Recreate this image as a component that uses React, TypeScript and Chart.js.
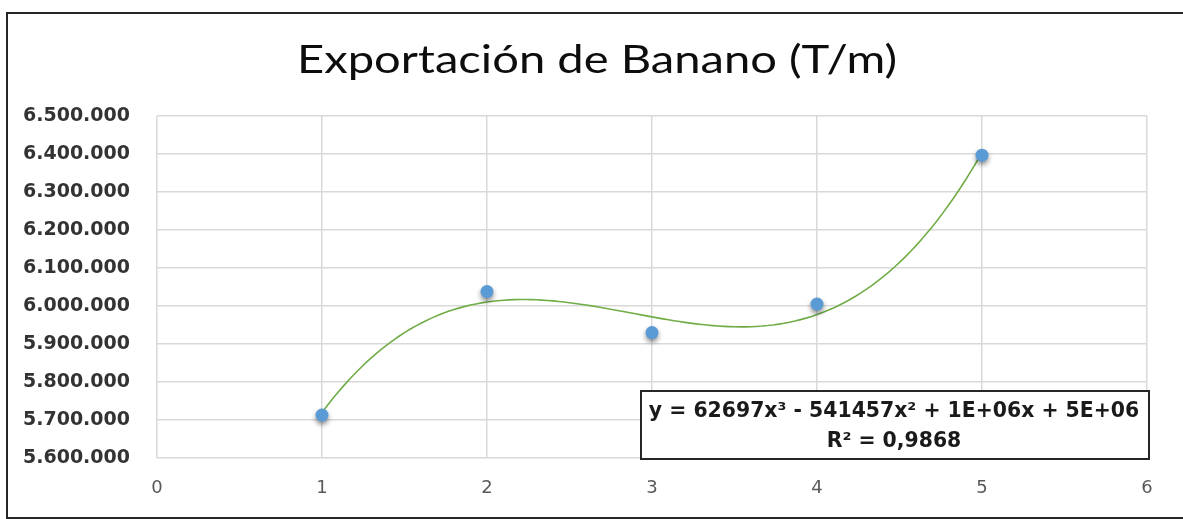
import React, { useEffect, useRef } from "react";
import { Chart, registerables } from "chart.js";

Chart.register(...registerables);

// ---- data ----
const TITLE = "Exportación de Banano (T/m)";
const periods = [1, 2, 3, 4, 5];
const exportTons = [5713000, 6038000, 5930000, 6005000, 6397000];
const yRange = [5600000, 6500000];
const yStep = 100000;
const xRange = [0, 6];
const xStep = 1;
const EQUATION = "y = 62697x³ - 541457x² + 1E+06x + 5E+06";
const R2_LABEL = "R² = 0,9868";

// least-squares polynomial trendline (what the spreadsheet's cubic trendline is)
function polyFit(xs: number[], ys: number[], deg: number) {
  const n = deg + 1;
  const xm = xs.reduce((a, b) => a + b, 0) / xs.length;
  const A: number[][] = Array.from({ length: n }, () => Array(n + 1).fill(0));
  for (let k = 0; k < xs.length; k++) {
    const t = xs[k] - xm;
    for (let i = 0; i < n; i++) {
      for (let j = 0; j < n; j++) A[i][j] += Math.pow(t, i + j);
      A[i][n] += ys[k] * Math.pow(t, i);
    }
  }
  for (let c = 0; c < n; c++) {
    let p = c;
    for (let r = c + 1; r < n; r++) if (Math.abs(A[r][c]) > Math.abs(A[p][c])) p = r;
    [A[c], A[p]] = [A[p], A[c]];
    for (let r = 0; r < n; r++) {
      if (r === c) continue;
      const f = A[r][c] / A[c][c];
      for (let k = c; k <= n; k++) A[r][k] -= f * A[c][k];
    }
  }
  const coef = A.map((row, i) => row[n] / row[i]);
  return (x: number) => coef.reduce((s, c, i) => s + c * Math.pow(x - xm, i), 0);
}

const fmt = (v: number) => String(Math.round(v)).replace(/\B(?=(\d{3})+(?!\d))/g, ".");

export default function App() {
  const ref = useRef<HTMLCanvasElement | null>(null);

  useEffect(() => {
    if (!ref.current) return;
    const f = polyFit(periods, exportTons, 3);
    const x0 = periods[0];
    const x1 = periods[periods.length - 1];
    const trend: { x: number; y: number }[] = [];
    const steps = 120;
    for (let i = 0; i <= steps; i++) {
      const x = x0 + ((x1 - x0) * i) / steps;
      trend.push({ x, y: f(x) });
    }

    const shadowPlugin = {
      id: "pointShadow",
      beforeDatasetDraw(chart: any, args: any) {
        if (args.index !== 0) return;
        const ctx = chart.ctx;
        ctx.save();
        ctx.shadowColor = "rgba(0,0,0,0.45)";
        ctx.shadowBlur = 5;
        ctx.shadowOffsetX = 0;
        ctx.shadowOffsetY = 3;
      },
      afterDatasetDraw(chart: any, args: any) {
        if (args.index !== 0) return;
        chart.ctx.restore();
      },
    };

    const textPlugin = {
      id: "titleAndEquation",
      afterDraw(chart: any) {
        const ctx = chart.ctx;
        const area = chart.chartArea;
        ctx.save();
        // title (horizontally stretched like the spreadsheet export)
        ctx.fillStyle = "#0d0d0d";
        ctx.font = "38px Lato";
        ctx.textAlign = "center";
        ctx.textBaseline = "alphabetic";
        const tw = ctx.measureText(TITLE).width;
        const sx = 600 / tw;
        ctx.save();
        ctx.translate(597, 73);
        ctx.scale(sx, 1);
        ctx.fillText(TITLE, 0, 0);
        ctx.restore();
        // equation box
        const bw = 508;
        const bh = 68;
        const bx = area.right + 2 - bw;
        const by = area.bottom + 1 - bh;
        ctx.fillStyle = "#ffffff";
        ctx.fillRect(bx, by, bw, bh);
        ctx.strokeStyle = "#262626";
        ctx.lineWidth = 2;
        ctx.strokeRect(bx, by, bw, bh);
        ctx.fillStyle = "#1a1a1a";
        ctx.font = "bold 20.4px 'DejaVu Sans'";
        ctx.textBaseline = "middle";
        ctx.fillText(EQUATION, bx + bw / 2 - 1, by + 21);
        ctx.fillText(R2_LABEL, bx + bw / 2 - 1, by + 51);
        ctx.restore();
      },
    };

    const gridColor = "#d9d9d9";
    const chart = new Chart(ref.current, {
      type: "scatter",
      data: {
        datasets: [
          {
            label: "Exportación",
            data: periods.map((x, i) => ({ x, y: exportTons[i] })),
            backgroundColor: "#5b9bd5",
            borderColor: "#5b9bd5",
            borderWidth: 0,
            pointRadius: 6.5,
            pointHoverRadius: 6.5,
            order: 0,
          },
          {
            label: "Tendencia",
            data: trend,
            showLine: true,
            borderColor: "#70ad47",
            borderWidth: 1.6,
            pointRadius: 0,
            pointHoverRadius: 0,
            fill: false,
            order: 1,
          } as any,
        ],
      },
      options: {
        responsive: false,
        animation: false,
        events: [],
        layout: { padding: { left: 0, top: 116, right: 36, bottom: 0 } },
        plugins: {
          legend: { display: false },
          tooltip: { enabled: false },
          title: { display: false },
        },
        scales: {
          x: {
            type: "linear",
            min: xRange[0],
            max: xRange[1],
            ticks: {
              stepSize: xStep,
              color: "#595959",
              font: { family: "'DejaVu Sans'", size: 18 },
              padding: 20,
            },
            grid: { color: gridColor, lineWidth: 1.5, drawTicks: false },
            border: { display: false },
            afterFit: (s: any) => {
              s.height = 61;
            },
          },
          y: {
            type: "linear",
            min: yRange[0],
            max: yRange[1],
            ticks: {
              stepSize: yStep,
              color: "#333333",
              font: { family: "'DejaVu Sans'", size: 19, weight: "bold" },
              padding: 27,
              callback: (v: any) => fmt(Number(v)),
            },
            grid: { color: gridColor, lineWidth: 1.5, drawTicks: false },
            border: { display: false },
            afterFit: (s: any) => {
              s.width = 157;
            },
          },
        },
      },
      plugins: [shadowPlugin, textPlugin],
    });
    return () => chart.destroy();
  }, []);

  return (
    <div style={{ position: "absolute", left: 0, top: 0, width: 1183, height: 519, background: "#ffffff", overflow: "hidden" }}>
      <div
        style={{
          position: "absolute",
          left: 6,
          top: 12,
          width: 1200,
          height: 503,
          borderLeft: "2px solid #262626",
          borderTop: "2px solid #262626",
          borderBottom: "2px solid #262626",
        }}
      />
      <canvas ref={ref} width={1183} height={519} style={{ position: "absolute", left: 0, top: 0, display: "block" }} />
    </div>
  );
}
